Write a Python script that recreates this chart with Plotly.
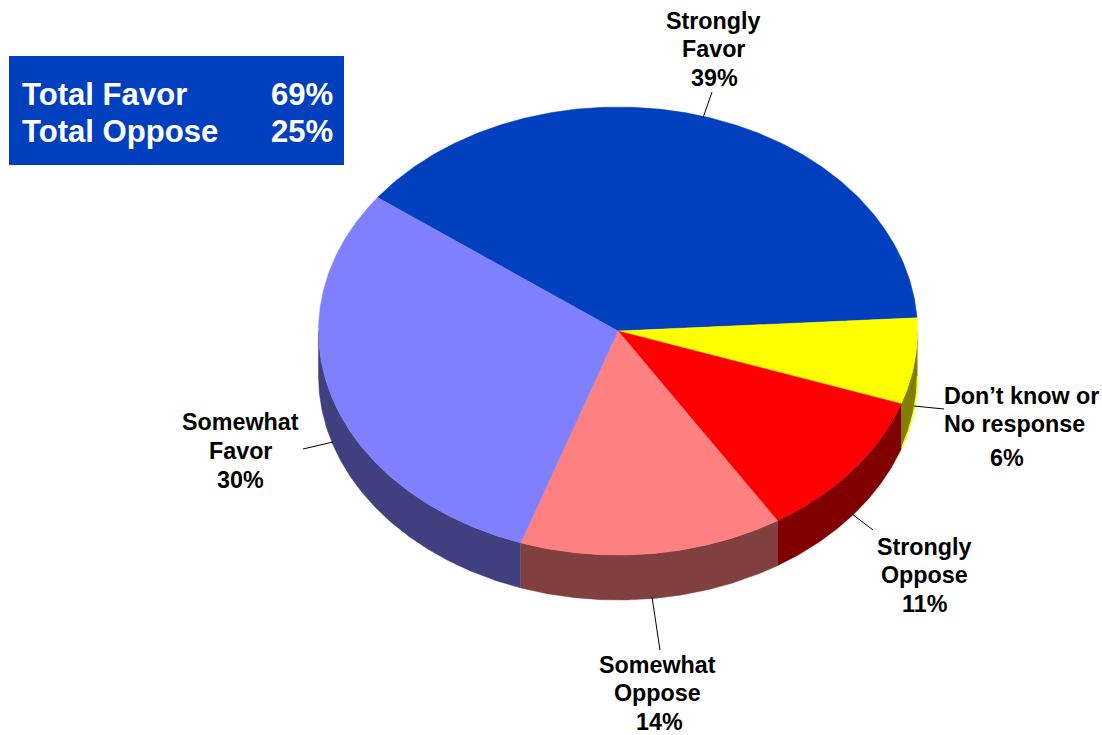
import numpy as np
import plotly.graph_objects as go

# ---- data ----
categories = ["Strongly Favor", "Don’t know or No response", "Strongly Oppose", "Somewhat Oppose", "Somewhat Favor"]
values = [38.9, 6.2, 10.8, 14.2, 29.9]
value_labels = ["39%", "6%", "11%", "14%", "30%"]
name_lines = [["Strongly", "Favor"], ["Don’t know or", "No response"], ["Strongly", "Oppose"],
              ["Somewhat", "Oppose"], ["Somewhat", "Favor"]]
summary_labels = ["Total Favor", "Total Oppose"]
summary_values = ["69%", "25%"]

# ---- style ----
top_colors = ["#0040BF", "#FFFF00", "#FF0000", "#FF8080", "#8080FF"]
side_colors = ["#002060", "#808000", "#800000", "#804040", "#404080"]
FONT = "Liberation Sans, Arial, sans-serif"
CX, CY, RX, RY, DEPTH = 618.0, 331.0, 299.5, 224.0, 45.0
START_ANGLE = 143.4

# (x, y) of each text line of each label: two name lines, then the value
label_pos = [
    [(713.5, 20.7), (713.5, 48.7), (714, 77.7)],
    [(1021, 395.7), (1014, 423.7), (1007, 457.7)],
    [(924.5, 546.7), (924.5, 574.7), (924.5, 603.7)],
    [(657, 664.7), (657, 692.7), (659, 721.7)],
    [(240, 421.7), (240, 450.7), (240, 479.7)],
]
leaders = [
    ((703, 118), (712, 92)),
    ((914, 406), (944, 409)),
    ((852, 514), (873, 530)),
    ((652, 597), (660, 650)),
    ((303, 449), (333, 442)),
]


def ellipse(a1, a2, dy=0.0):
    t = np.radians(np.linspace(a1, a2, max(int(abs(a2 - a1) * 2), 2)))
    return CX + RX * np.cos(t), CY + dy - RY * np.sin(t)


fig = go.Figure()
angle = START_ANGLE
spans = []
for v in values:
    spans.append((angle, angle - v * 3.6))
    angle -= v * 3.6

# side walls (only the front half of the rim shows)
for (a1, a2), name, col in zip(spans, categories, side_colors):
    s, e = min(a1, 0.0), max(a2, -180.0)
    if s <= e:
        continue
    x1, y1 = ellipse(s, e)
    x2, y2 = ellipse(e, s, DEPTH)
    fig.add_trace(go.Scatter(
        x=np.r_[x1, x2], y=np.r_[y1, y2], mode="lines", fill="toself",
        fillcolor=col, line=dict(color=col, width=0.5), hoverinfo="skip",
        name=name, showlegend=False))
    if name.startswith("Don"):
        xe, ye = ellipse(s, e, DEPTH)
        fig.add_trace(go.Scatter(x=xe, y=ye, mode="lines", line=dict(color="#FFFF00", width=1.5),
                                 hoverinfo="skip", showlegend=False))

# top faces
for (a1, a2), name, lab, col in zip(spans, categories, value_labels, top_colors):
    xa, ya = ellipse(a1, a2)
    fig.add_trace(go.Scatter(
        x=np.r_[CX, xa, CX], y=np.r_[CY, ya, CY], mode="lines", fill="toself",
        fillcolor=col, line=dict(color=col, width=0.5), name=name,
        text=f"{name}: {lab}", hoverinfo="text", showlegend=False))

shapes = [dict(type="rect", x0=9, x1=344, y0=56, y1=165, fillcolor="#0040BF", line_width=0, layer="below")]
for (p, q) in leaders:
    shapes.append(dict(type="line", x0=p[0], y0=p[1], x1=q[0], y1=q[1],
                       line=dict(color="#000000", width=1)))

annotations = []
for names, lab, positions in zip(name_lines, value_labels, label_pos):
    for txt, (x, y) in zip(names + [lab], positions):
        annotations.append(dict(x=x, y=y, text=f"<b>{txt}</b>", showarrow=False, xanchor="center",
                                yanchor="middle", font=dict(family=FONT, size=23.3, color="#000000")))
for lab, val, y in zip(summary_labels, summary_values, [94, 131]):
    annotations.append(dict(x=20, y=y, text=f"<b>{lab}</b>", showarrow=False, xanchor="left", yanchor="middle",
                            font=dict(family=FONT, size=31.1, color="#FFFFFF")))
    annotations.append(dict(x=335, y=y, text=f"<b>{val}</b>", showarrow=False, xanchor="right", yanchor="middle",
                            font=dict(family=FONT, size=31.1, color="#FFFFFF")))

fig.update_layout(
    width=1102, height=735, margin=dict(l=0, r=0, t=0, b=0),
    paper_bgcolor="#FFFFFF", plot_bgcolor="#FFFFFF", showlegend=False,
    xaxis=dict(range=[0, 1102], visible=False, fixedrange=True),
    yaxis=dict(range=[735, 0], visible=False, fixedrange=True),
    shapes=shapes, annotations=annotations,
)
fig.write_html("out.html", config=dict(displayModeBar=False),
               post_script="document.body.style.margin='0';")
